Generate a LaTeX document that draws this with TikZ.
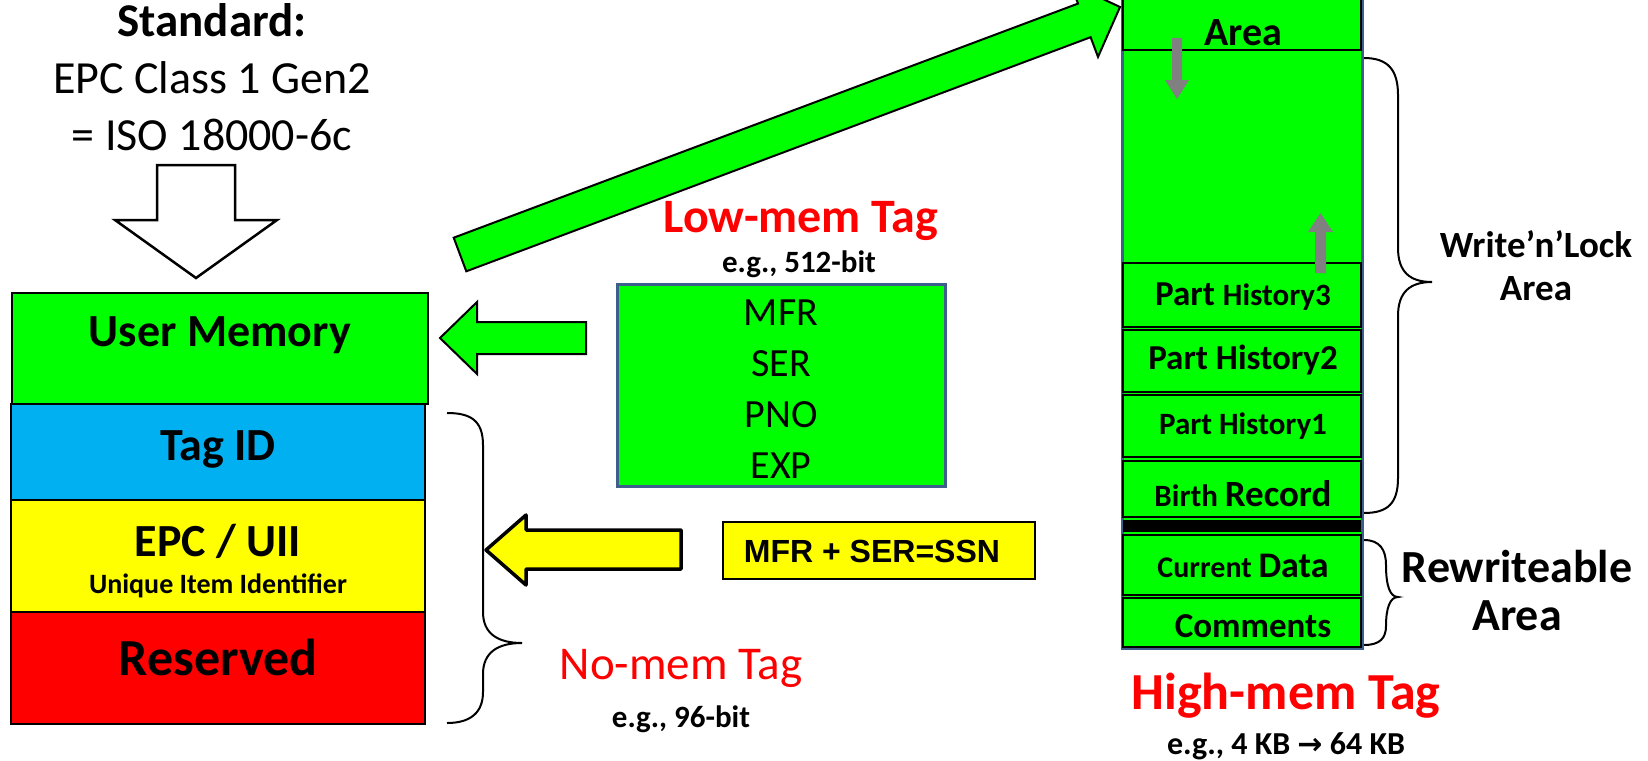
\documentclass[tikz,border=0pt]{standalone}
\usepackage{fontspec}
\setmainfont{Carlito}
\newfontfamily\djv{DejaVu Sans}
\newfontfamily\lib{Liberation Sans}
\definecolor{grn}{HTML}{00FF00}
\definecolor{cyn}{HTML}{00B0F0}
\definecolor{yel}{HTML}{FFFF00}
\definecolor{rd}{HTML}{FF0000}
\definecolor{bdr}{HTML}{3E5F8C}
\definecolor{gry}{HTML}{808080}
\newcommand\fz[1]{\fontsize{#1}{#1}\selectfont}
\begin{document}
\begin{tikzpicture}[x=1pt,y=-1pt,
  txt/.style={inner sep=0pt,outer sep=0pt,anchor=center},
  box/.style={draw=black,line width=2pt,inner sep=0pt,outer sep=0pt},
  blk/.style={draw=black,line width=2pt,line join=miter},
  brc/.style={draw=black,line width=2pt}]
\useasboundingbox (0,0) rectangle (1648,760);
\clip (0,0) rectangle (1648,760);

% top-left text and hollow arrow
\node[txt,font=\bfseries\fz{47}] (std) at (212,20) {Standard:};
\node[txt,font=\fz{46}] (epc) at (212,78) {EPC Class 1 Gen2};
\node[txt,font=\fz{46}] (iso) at (212,135) {= ISO 18000-6c};
\draw[blk,line width=2.5pt,fill=white] (157,165) -- (235,165) -- (235,220) -- (277,220) -- (196,278) -- (115,220) -- (157,220) -- cycle;

% left stack
\node[box,fill=grn,minimum width=416pt,minimum height=111pt] (um) at (220,348.5) {};
\node[box,fill=cyn,minimum width=414pt,minimum height=96pt] (tid) at (218,452) {};
\node[box,fill=yel,minimum width=414pt,minimum height=112pt] (epcb) at (218,556) {};
\node[box,fill=rd,minimum width=414pt,minimum height=112pt] (res) at (218,668) {};
\node[txt,font=\bfseries\fz{46}] (umt) at (220,335) {User Memory};
\node[txt,font=\bfseries\fz{46}] (tidt) at (218,449) {Tag ID};
\node[txt,font=\bfseries\fz{46}] (epct) at (218,541) {EPC / UII};
\node[txt,font=\bfseries\fz{28}] (uii) at (218,586) {Unique Item Identifier};
\node[txt,font=\bfseries\fz{52}] (rest) at (218,657) {Reserved};

% left brace
\draw[brc] (447,413) .. controls (470,413) and (483,420) .. (483,445) -- (483,612) .. controls (483,633) and (497,643) .. (522,643) .. controls (497,643) and (483,653) .. (483,674) -- (483,692) .. controls (483,713) and (470,723) .. (447,723);
\node[txt,font=\fz{47},text=rd] (nomem) at (681,668) {No-mem Tag};
\node[txt,font=\bfseries\fz{31}] (nomemeg) at (681,719) {e.g., 96-bit};

% green left arrow
\draw[blk,fill=grn] (586,322) -- (477,322) -- (477,302) -- (440,338) -- (477,374) -- (477,354) -- (586,354) -- cycle;

% low-mem box
\node[draw=bdr,line width=3pt,fill=grn,minimum width=328pt,minimum height=202pt,inner sep=0pt] (low) at (781,385) {};
\node[txt,font=\fz{40}] (mfr) at (781,313) {MFR};
\node[txt,font=\fz{40}] (ser) at (781,364) {SER};
\node[txt,font=\fz{40}] (pno) at (781,415) {PNO};
\node[txt,font=\fz{40}] (exp) at (781,466) {EXP};
\node[txt,font=\bfseries\fz{48},text=rd] (lowt) at (801,221) {Low-mem Tag};
\node[txt,font=\bfseries\fz{31}] (loweg) at (799,264) {e.g., 512-bit};

% yellow arrow and SSN box
\draw[blk,line width=3.5pt,fill=yel,line join=round] (681,530) -- (526,530) -- (526,515) -- (486,550) -- (526,585) -- (526,569) -- (681,569) -- cycle;
\node[box,fill=yel,minimum width=312pt,minimum height=57pt] (ssn) at (879,550.5) {};
\node[txt,font=\lib\bfseries\fz{32}] (ssnt) at (872,551) {MFR + SER=SSN};

% right column
\node[draw=bdr,line width=3pt,fill=grn,minimum width=240pt,minimum height=690pt,inner sep=0pt] (high) at (1242,303) {};
\node[box,fill=grn,minimum width=238pt,minimum height=80pt] (area) at (1242,10) {};
\node[txt,font=\bfseries\fz{40}] (areat) at (1243,33) {Area};
\node[box,fill=grn,minimum width=238pt,minimum height=64pt] (ph3) at (1242,295) {};
\node[box,fill=grn,minimum width=238pt,minimum height=62pt] (ph2) at (1242,361) {};
\node[box,fill=grn,minimum width=238pt,minimum height=62pt] (ph1) at (1242,426) {};
\node[box,fill=grn,minimum width=238pt,minimum height=56pt] (birth) at (1242,489) {};
\node[fill=black,minimum width=238pt,minimum height=12pt,inner sep=0pt] (bar) at (1242,526) {};
\node[box,fill=grn,minimum width=238pt,minimum height=60pt] (cur) at (1242,565) {};
\node[box,fill=grn,minimum width=238pt,minimum height=49pt] (com) at (1242,622.5) {};
\node[txt,font=\bfseries] (ph3t) at (1243,297) {\fz{35}Part \fz{31}History3};
\node[txt,font=\bfseries\fz{35}] (ph2t) at (1243,360) {Part History2};
\node[txt,font=\bfseries\fz{31}] (ph1t) at (1243,426) {Part History1};
\node[txt,font=\bfseries] (birtht) at (1243,494) {\fz{31}Birth \fz{37}Record};
\node[txt,font=\bfseries] (curt) at (1243,566) {\fz{30}Current \fz{36}Data};
\node[txt,font=\bfseries\fz{35}] (comt) at (1253,626) {Comments};

% gray arrows
\fill[gry] (1172,38) -- (1182,38) -- (1182,80) -- (1189,80) -- (1177,99) -- (1165,80) -- (1172,80) -- cycle;
\fill[gry] (1315,273) -- (1315,232) -- (1308,232) -- (1320.5,213) -- (1333,232) -- (1326,232) -- (1326,273) -- cycle;

% right braces and labels
\draw[brc] (1364,58) .. controls (1388,58) and (1398,70) .. (1398,95) -- (1398,248) .. controls (1398,272) and (1410,282) .. (1432,282) .. controls (1410,282) and (1398,292) .. (1398,316) -- (1398,478) .. controls (1398,503) and (1388,513) .. (1364,513);
\node[txt,font=\bfseries\fz{37}] (wl) at (1536,244) {Write’n’Lock};
\node[txt,font=\bfseries\fz{37}] (wla) at (1536,289) {Area};
\draw[brc] (1364,540) .. controls (1380,540) and (1386,550) .. (1386,565) .. controls (1386,586) and (1390,597) .. (1398,597) .. controls (1390,597) and (1386,608) .. (1386,626) .. controls (1386,638) and (1380,645) .. (1364,645);
\node[txt,font=\bfseries\fz{46}] (rw) at (1517,567) {Rewriteable};
\node[txt,font=\bfseries\fz{46}] (rwa) at (1517,616) {Area};

\node[txt,font=\bfseries\fz{52},text=rd] (hight) at (1286,696) {High-mem Tag};
\node[txt,font=\bfseries\fz{32}] (higheg) at (1286,746) {e.g., 4 KB {\djv\bfseries\fz{30}→} 64 KB};

% diagonal green arrow
\draw[blk,fill=grn] (453.7,237.7) -- (1078,3.6) -- (1070.6,-16.1) -- (1120,7) -- (1098,56.9) -- (1090.6,37.2) -- (466.3,271.3) -- cycle;
\end{tikzpicture}
\end{document}
